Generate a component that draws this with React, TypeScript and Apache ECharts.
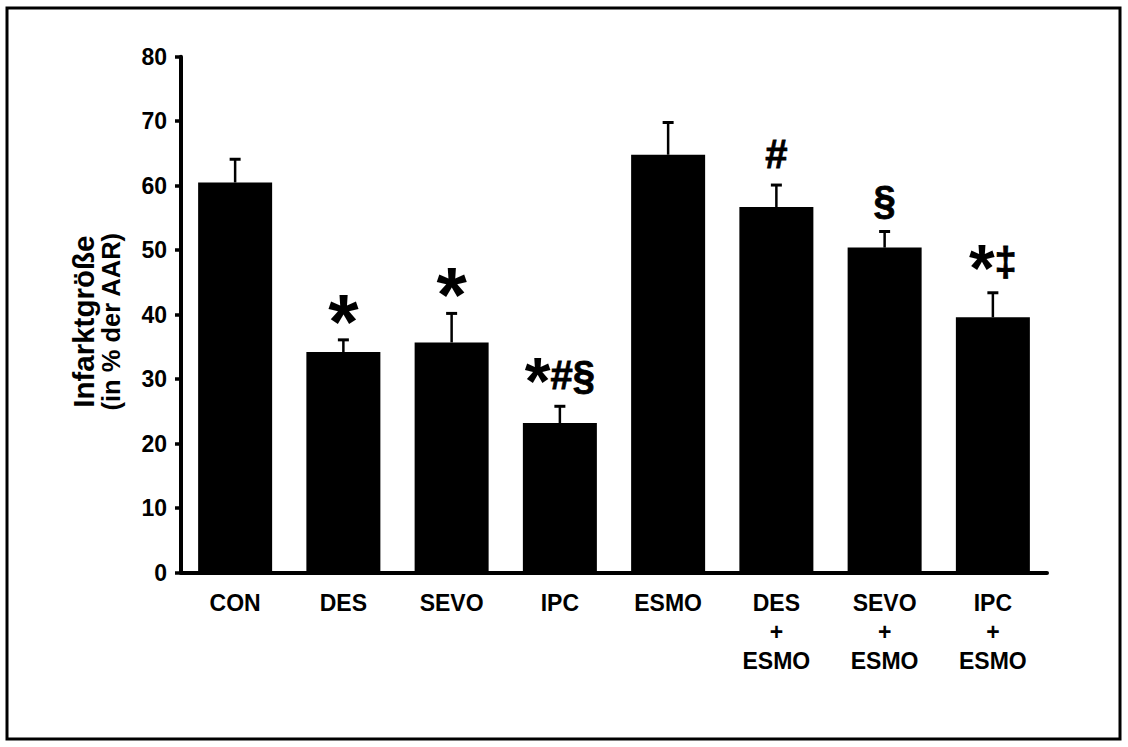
import React, { useEffect, useRef } from "react";
import * as echarts from "echarts";

const categories = ["CON", "DES", "SEVO", "IPC", "ESMO", "DES\n+\nESMO", "SEVO\n+\nESMO", "IPC\n+\nESMO"];
const means = [60.5, 34.2, 35.7, 23.2, 64.8, 56.7, 50.4, 39.6];
const errors = [3.6, 1.9, 4.5, 2.6, 5.0, 3.4, 2.5, 3.8];
const marks = ["", "*", "*", "*#§", "", "#", "§", "*‡"];
const yMin = 0;
const yMax = 80;
const yStep = 10;
const yTitle = ["Infarktgröße", "(in % der AAR)"];

const FONT = "Liberation Sans";
const FONT_CSS = "'Liberation Sans', Arial, sans-serif";

let measureCtx: CanvasRenderingContext2D | null = null;
function measure(text: string, size: number): number {
  if (!measureCtx) measureCtx = document.createElement("canvas").getContext("2d");
  if (!measureCtx) return text.length * size * 0.5;
  measureCtx.font = `bold ${size}px ${FONT_CSS}`;
  return measureCtx.measureText(text).width;
}

function textEl(text: string, x: number, y: number, size: number) {
  return {
    type: "text",
    style: {
      text,
      x,
      y,
      fill: "#000",
      stroke: "#000",
      lineWidth: size > 50 ? 0 : 0.8,
      fontSize: size,
      fontWeight: "bold",
      fontFamily: FONT,
      textAlign: "left",
      align: "left",
      textVerticalAlign: "bottom",
      verticalAlign: "bottom",
    },
  };
}

export default function App() {
  const ref = useRef<HTMLDivElement>(null);
  useEffect(() => {
    if (!ref.current) return;
    const chart = echarts.init(ref.current, null, { renderer: "svg" });
    const restSize = 40;
    chart.setOption({
      animation: false,
      backgroundColor: "#fff",
      grid: { left: 181, right: 81, top: 56.7, bottom: 174.3, containLabel: false },
      graphic: [
        {
          type: "rect",
          silent: true,
          shape: { x: 7, y: 8, width: 1113, height: 731 },
          style: { fill: "none", stroke: "#000", lineWidth: 3 },
        },
      ],
      xAxis: {
        type: "category",
        data: categories,
        axisTick: { show: false },
        axisLine: { lineStyle: { color: "#000", width: 4 } },
        axisLabel: {
          interval: 0,
          color: "#000",
          fontFamily: FONT,
          fontWeight: "bold",
          fontSize: 23,
          lineHeight: 29,
          margin: 16,
        },
      },
      yAxis: {
        type: "value",
        min: yMin,
        max: yMax,
        interval: yStep,
        name: `{a|${yTitle[0]}}\n{b|${yTitle[1]}}`,
        nameLocation: "middle",
        nameRotate: 90,
        nameGap: 56,
        nameTextStyle: {
          color: "#000",
          fontFamily: FONT,
          fontWeight: "bold",
          fontSize: 25,
          lineHeight: 28,
          padding: [0, 14, 0, 0],
          rich: {
            a: { color: "#000", fontFamily: FONT, fontWeight: "bold", fontSize: 29.5, lineHeight: 28 },
            b: { color: "#000", fontFamily: FONT, fontWeight: "bold", fontSize: 25.5, lineHeight: 28 },
          },
        },
        splitLine: { show: false },
        axisLine: { show: true, lineStyle: { color: "#000", width: 4 } },
        axisTick: { show: true, length: 6, inside: false, lineStyle: { color: "#000", width: 3.5 } },
        axisLabel: {
          color: "#000",
          fontFamily: FONT,
          fontWeight: "bold",
          fontSize: 23,
          margin: 14,
        },
      },
      series: [
        {
          type: "bar",
          data: means,
          barWidth: 74,
          itemStyle: { color: "#000" },
          silent: true,
        },
        {
          type: "custom",
          z: 5,
          silent: true,
          data: means.map((m, i) => [i, m, errors[i]]),
          encode: { x: 0, y: 1 },
          renderItem: (params: any, api: any) => {
            const idx = params.dataIndex;
            const xv = api.value(0);
            const m = api.value(1);
            const e = api.value(2);
            const p0 = api.coord([xv, m]);
            const p1 = api.coord([xv, m + e]);
            const cx = p0[0];
            const children: any[] = [
              {
                type: "line",
                shape: { x1: cx, y1: p0[1], x2: cx, y2: p1[1] },
                style: { stroke: "#000", lineWidth: 2.5 },
              },
              {
                type: "line",
                shape: { x1: cx - 5.5, y1: p1[1], x2: cx + 5.5, y2: p1[1] },
                style: { stroke: "#000", lineWidth: 3 },
              },
            ];
            const mark = marks[idx];
            if (mark) {
              const hasStar = mark[0] === "*";
              const rest = hasStar ? mark.slice(1) : mark;
              const starSize = rest ? 66 : 78;
              const wStar = hasStar ? measure("*", starSize) : 0;
              const wRest = rest ? measure(rest, restSize) : 0;
              const left = cx - (wStar + wRest) / 2;
              if (hasStar) {
                children.push(textEl("*", left, p1[1] + (rest ? 8 : 21), starSize));
              }
              if (rest) {
                children.push(textEl(rest, left + wStar, p1[1] - 11, restSize));
              }
            }
            return { type: "group", children };
          },
        },
      ],
    });
    return () => chart.dispose();
  }, []);
  return (
    <div
      ref={ref}
      style={{ position: "absolute", left: 0, top: 0, width: 1128, height: 747 }}
    />
  );
}
